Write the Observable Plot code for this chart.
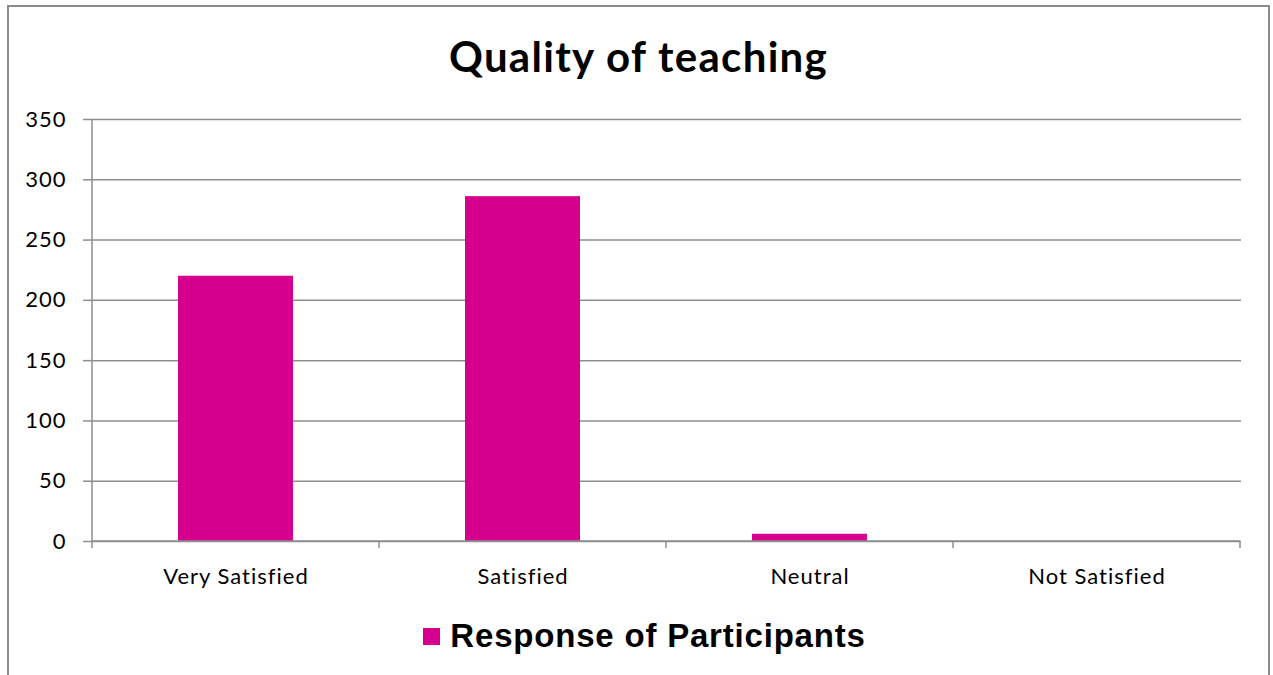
<!DOCTYPE html>
<html>
<head>
<meta charset="utf-8">
<script src="https://cdn.jsdelivr.net/npm/d3@7"></script>
<script src="https://cdn.jsdelivr.net/npm/@observablehq/plot@0.6"></script>
<style>
  html, body { margin: 0; padding: 0; background: #ffffff; }
  #frame {
    position: absolute; left: 7px; top: 5px; width: 1263px; height: 720px;
    border: 2px solid #8c8c8c; border-bottom: none; box-sizing: border-box;
    background: #ffffff; font-family: Lato, "Open Sans", sans-serif;
  }
  #title {
    height: 93px; line-height: 98px; text-align: center;
    font-family: Lato, sans-serif; font-weight: bold; font-size: 42px; letter-spacing: 1.3px; color: #000;
  }
  #chart svg { display: block; }
  #chart svg text { letter-spacing: 1px; }
  #legend {
    height: 70px; display: flex; align-items: center; justify-content: center;
    padding-left: 12px; box-sizing: border-box;
    font-family: "Liberation Sans", Arial, sans-serif; font-weight: bold; font-size: 33px; letter-spacing: 0.8px; color: #000;
  }
  #legend .swatch { width: 17px; height: 17px; margin-right: 10px; }
</style>
</head>
<body>
<div id="frame">
  <div id="title"></div>
  <div id="chart"></div>
  <div id="legend"></div>
</div>
<script>
// ---- data ----
const titleText = "Quality of teaching";
const seriesName = "Response of Participants";
const categories = ["Very Satisfied", "Satisfied", "Neutral", "Not Satisfied"];
const values = [220, 286, 6, 0];
const yTicks = [0, 50, 100, 150, 200, 250, 300, 350];
const yMax = 350;

// ---- styles ----
const barColor = "#d6008f";
const gridColor = "#8e8e8e";

const data = categories.map((c, i) => ({category: c, value: values[i]}));

document.getElementById("title").textContent = titleText;
const legend = document.getElementById("legend");
const sw = document.createElement("span");
sw.className = "swatch"; sw.style.background = barColor;
const lt = document.createElement("span");
lt.textContent = seriesName;
legend.append(sw, lt);

function axisLines(index, scales) {
  const sx = scales.x, sy = scales.y;
  let bw, st;
  if (typeof sx.bandwidth === "function") { bw = sx.bandwidth(); st = sx.step(); }
  else { bw = scales.scales.x.bandwidth; st = scales.scales.x.step; }
  const half = (st - bw) / 2;
  const y0 = sy(0), yTop = sy(yMax);
  const bounds = categories.map(c => sx(c) - half);
  bounds.push(sx(categories[categories.length - 1]) + bw + half);
  const g = d3.create("svg:g")
    .attr("stroke", gridColor).attr("stroke-width", 1.5).attr("fill", "none");
  for (const b of bounds) {
    g.append("line").attr("x1", b).attr("x2", b).attr("y1", y0).attr("y2", y0 + 7);
  }
  g.append("line").attr("x1", bounds[0]).attr("x2", bounds[bounds.length - 1]).attr("y1", y0).attr("y2", y0);
  g.append("line").attr("x1", bounds[0]).attr("x2", bounds[0]).attr("y1", yTop).attr("y2", y0);
  return g.node();
}

const plot = Plot.plot({
  width: 1259,
  height: 501,
  marginTop: 19,
  marginBottom: 60,
  marginLeft: 82,
  marginRight: 27,
  style: {fontFamily: "Lato, 'Open Sans', sans-serif", fontSize: "22px", color: "#000", background: "#fff"},
  x: {domain: categories, paddingInner: 0.6, paddingOuter: 0.3, label: null},
  y: {domain: [0, yMax], label: null},
  marks: [
    Plot.gridY(yTicks, {stroke: gridColor, strokeOpacity: 1, strokeWidth: 1.5}),
    Plot.axisY(yTicks, {tickSize: 8, tickPadding: 17, fontSize: 22, stroke: gridColor, strokeWidth: 1.5, strokeOpacity: 1, fill: "#000", label: null}),
    Plot.barY(data, {x: "category", y: "value", fill: barColor}),
    axisLines,
    Plot.axisX({tickSize: 0, tickPadding: 27, fontSize: 22, fill: "#000", label: null})
  ]
});
document.getElementById("chart").append(plot);
</script>
</body>
</html>
